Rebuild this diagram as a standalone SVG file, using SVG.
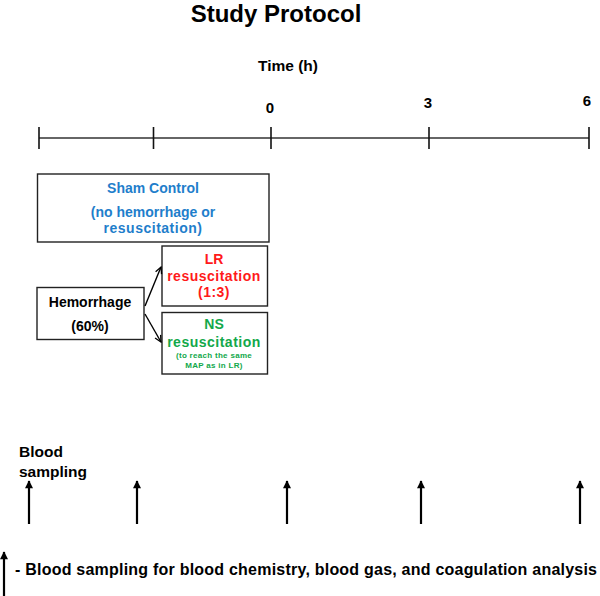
<svg xmlns="http://www.w3.org/2000/svg" width="600" height="596" viewBox="0 0 600 596">
<defs>
<style>
text{font-family:"Liberation Sans",Arial,sans-serif;font-weight:bold;}
.c{text-anchor:middle;}
.box{fill:#fff;stroke:#222;stroke-width:1.4;}
.blue{fill:#1f7ecb;}
.red{fill:#ff1a1a;}
.green{fill:#12a84a;}
.tick{stroke:#111;stroke-width:1.6;}
.arr{stroke:#000;stroke-width:2.2;fill:none;}
.ls{letter-spacing:0.5px;}
</style>
<marker id="ah" viewBox="0 0 10 10" refX="9" refY="5" markerWidth="9" markerHeight="8" markerUnits="userSpaceOnUse" orient="auto">
<path d="M0,0 L10,5 L0,10 z" fill="#000"/>
</marker>
<marker id="oh" viewBox="0 0 10 10" refX="9" refY="5" markerWidth="8" markerHeight="8" markerUnits="userSpaceOnUse" orient="auto">
<path d="M1,1 L9,5 L1,9" fill="none" stroke="#000" stroke-width="1.6"/>
</marker>
</defs>
<rect width="600" height="596" fill="#fff"/>
<text x="276" y="22" class="c" font-size="24">Study Protocol</text>
<text x="288" y="71" class="c" font-size="15.5">Time (h)</text>
<g id="timeline">
<line x1="39" y1="138" x2="589" y2="138" stroke="#666" stroke-width="2"/>
<line class="tick" x1="39" y1="127" x2="39" y2="149"/>
<line class="tick" x1="153.5" y1="127" x2="153.5" y2="149"/>
<line class="tick" x1="271" y1="127" x2="271" y2="149"/>
<line class="tick" x1="429" y1="127" x2="429" y2="149"/>
<line class="tick" x1="589" y1="127" x2="589" y2="149"/>
<text x="270" y="113" class="c" font-size="15">0</text>
<text x="428" y="108" class="c" font-size="15">3</text>
<text x="587" y="106" class="c" font-size="15">6</text>
</g>
<g id="sham">
<rect class="box" x="37.5" y="174" width="231.5" height="68"/>
<text x="153" y="193" class="c blue" font-size="14">Sham Control</text>
<text x="153" y="217" class="c blue" font-size="14">(no hemorrhage or</text>
<text x="153" y="233" class="c blue ls" font-size="14">resuscitation)</text>
</g>
<g id="hemorrhage">
<rect class="box" x="37" y="287.5" width="107" height="52"/>
<text x="90" y="307" class="c" font-size="14">Hemorrhage</text>
<text x="90" y="331" class="c" font-size="14">(60%)</text>
</g>
<g id="lr">
<rect class="box" x="162" y="246" width="105.5" height="60"/>
<text x="214" y="264" class="c red" font-size="14">LR</text>
<text x="214" y="281" class="c red ls" font-size="14">resuscitation</text>
<text x="214" y="297" class="c red ls" font-size="14">(1:3)</text>
</g>
<g id="ns">
<rect class="box" x="162" y="312.5" width="105.5" height="61.5"/>
<text x="214" y="329" class="c green" font-size="14">NS</text>
<text x="214" y="346.5" class="c green ls" font-size="14">resuscitation</text>
<text x="214" y="358" class="c green" font-size="8" letter-spacing="0.3">(to reach the same</text>
<text x="214" y="368" class="c green" font-size="8" letter-spacing="0.3">MAP as in LR)</text>
</g>
<g id="connectors">
<line x1="145" y1="306" x2="161" y2="267" stroke="#000" stroke-width="1.4" marker-end="url(#oh)"/>
<line x1="145" y1="314" x2="161" y2="342" stroke="#000" stroke-width="1.4" marker-end="url(#oh)"/>
</g>
<g id="sampling">
<text x="19" y="457" font-size="15.5">Blood</text>
<text x="19" y="476.5" font-size="15.5">sampling</text>
<line class="arr" x1="29" y1="524" x2="29" y2="481" marker-end="url(#ah)"/>
<line class="arr" x1="137" y1="524" x2="137" y2="481" marker-end="url(#ah)"/>
<line class="arr" x1="287" y1="524" x2="287" y2="481" marker-end="url(#ah)"/>
<line class="arr" x1="421" y1="524" x2="421" y2="481" marker-end="url(#ah)"/>
<line class="arr" x1="580" y1="524" x2="580" y2="481" marker-end="url(#ah)"/>
</g>
<g id="legend">
<line class="arr" x1="4" y1="600" x2="4" y2="552" marker-end="url(#ah)"/>
<text x="15" y="575" font-size="16" textLength="582">- Blood sampling for blood chemistry, blood gas, and coagulation analysis</text>
</g>
</svg>
